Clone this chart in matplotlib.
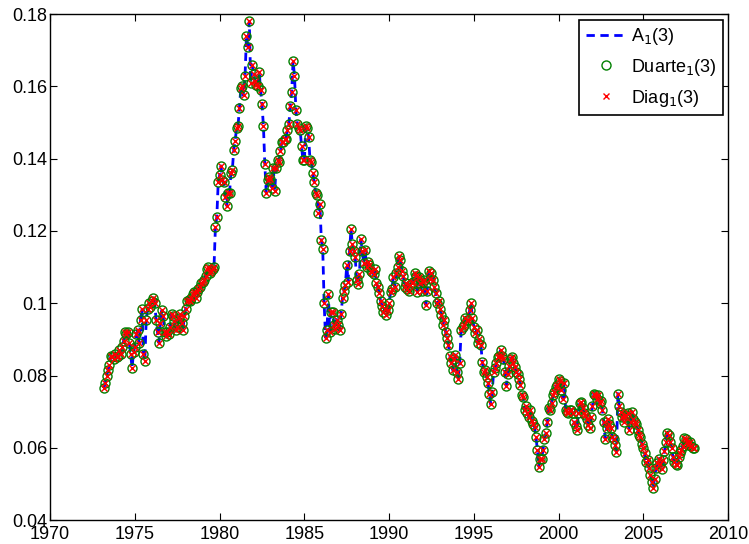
import numpy as np
import matplotlib.pyplot as plt

plt.rcParams['font.family'] = ['Liberation Sans', 'DejaVu Sans']

# monthly values, March 1973 .. January 2008
start_year = 1973
start_month = 3
a1_values = [
    # 1973 (Mar-Dec)
    .0765, .078, .080, .0815, .083, .0855, .085, .0845, .086, .085,
    # 1974
    .0855, .087, .086, .088, .0895, .092, .0915, .092, .089, .086, .082, .0865,
    # 1975
    .088, .0915, .0925, .089, .0955, .0985, .086, .084, .0955, .0985, .100, .099,
    # 1976
    .1005, .1015, .100, .0955, .092, .089, .0945, .098, .0965, .092, .091, .092,
    # 1977
    .0915, .0935, .097, .0965, .095, .0925, .0935, .096, .097, .0945, .0925, .0965,
    # 1978
    .0985, .1005, .101, .1005, .1015, .1025, .103, .1015, .103, .104, .1045, .1055,
    # 1979
    .106, .1065, .1075, .1095, .110, .1085, .109, .1095, .110, .121, .124, .1335,
    # 1980
    .1355, .138, .134, .1335, .1295, .127, .1305, .1305, .136, .137, .1425, .145,
    # 1981
    .1485, .149, .154, .1595, .160, .1575, .163, .174, .171, .178, .161, .166,
    # 1982
    .1635, .1615, .1605, .160, .164, .159, .155, .149, .1385, .1305, .134, .135,
    # 1983
    .1345, .132, .1375, .131, .1375, .1395, .139, .142, .1445, .1445, .1455, .1455,
    # 1984
    .148, .1495, .1545, .1585, .167, .163, .1535, .1495, .1485, .148, .1435, .1395,
    # 1985
    .1395, .149, .1485, .146, .1395, .139, .136, .1335, .1305, .130, .125, .1275,
    # 1986
    .1175, .115, .100, .0905, .0925, .1025, .092, .0975, .0975, .094, .093, .0955,
    # 1987
    .094, .0925, .097, .1015, .1035, .105, .1105, .106, .1145, .1205, .1165, .1145,
    # 1988
    .1128, .1065, .1053, .108, .1177, .1145, .111, .1147, .110, .1115, .1105, .109,
    # 1989
    .1087, .108, .1095, .1055, .1045, .1028, .1005, .0993, .0975, .0985, .0967, .098,
    # 1990
    .100, .103, .104, .1073, .1045, .1085, .110, .113, .112, .109, .1075, .1045,
    # 1991
    .1055, .104, .1035, .105, .1055, .106, .1083, .1075, .103, .1073, .1055, .1035,
    # 1992
    .106, .1065, .0995, .1035, .109, .1066, .1085, .1065, .1045, .1028, .100, .1005,
    # 1993
    .0985, .0967, .094, .0955, .092, .0905, .0885, .0855, .0835, .0815, .0845, .0857,
    # 1994
    .081, .079, .0835, .0926, .0935, .094, .096, .0955, .0955, .098, .100, .096,
    # 1995
    .0935, .0918, .0925, .089, .090, .0885, .0837, .081, .0815, .0796, .078, .075,
    # 1996
    .072, .0755, .081, .082, .0835, .085, .0855, .087, .0855, .0845, .081, .077,
    # 1997
    .0805, .0825, .0845, .085, .0835, .0823, .081, .0805, .079, .0775, .0746, .074,
    # 1998
    .0705, .0715, .0695, .0685, .0705, .0675, .0665, .0657, .063, .0594, .0548, .057,
    # 1999
    .057, .0595, .0625, .064, .067, .071, .0705, .0725, .0745, .0755, .0768, .0775,
    # 2000
    .079, .0785, .076, .0735, .078, .0705, .070, .0695, .0705, .0705, .0695, .067,
    # 2001
    .066, .065, .0695, .0724, .0728, .071, .0695, .069, .068, .0663, .0655, .0685,
    # 2002
    .0715, .075, .0745, .0735, .0745, .0725, .073, .0705, .067, .0625, .0655, .068,
    # 2003
    .0665, .0655, .063, .0625, .0607, .0588, .075, .0715, .070, .0685, .067, .0685,
    # 2004
    .069, .0695, .065, .067, .070, .068, .067, .0665, .065, .0635, .063, .061,
    # 2005
    .060, .0585, .056, .0565, .0544, .0525, .0505, .049, .0515, .0545, .0558, .057,
    # 2006
    .0555, .054, .0565, .059, .0615, .064, .0635, .0615, .060, .0575, .056, .0555,
    # 2007
    .0553, .0575, .0585, .0595, .0605, .0627, .0625, .0615, .0607, .0615, .0605, .060,
    # 2008 (Jan)
    .060,
]
# the three estimates lie on top of each other in the figure
duarte1_values = a1_values
diag1_values = a1_values

t = start_year + (start_month - 1) / 12 + np.arange(len(a1_values)) / 12

fig = plt.figure(figsize=(7.49, 5.44), dpi=100)
ax = fig.add_axes([0.067, 0.044, 0.905, 0.930])

ax.plot(t, a1_values, color='blue', linestyle='--', linewidth=2,
        dashes=(3, 2), label='A$_1$(3)')
ax.plot(t, duarte1_values, linestyle='none', marker='o', markersize=6.5,
        markerfacecolor='none', markeredgecolor=(0, 0.5, 0),
        markeredgewidth=1, label='Duarte$_1$(3)')
ax.plot(t, diag1_values, linestyle='none', marker='x', markersize=4,
        color='red', markeredgewidth=1, label='Diag$_1$(3)')

ax.set_xlim(1970, 2010)
ax.set_ylim(0.04, 0.18)
ax.set_xticks(np.arange(1970, 2011, 5))
ax.set_yticks(np.arange(0.04, 0.181, 0.02))
ax.set_yticklabels(['0.04', '0.06', '0.08', '0.1', '0.12', '0.14', '0.16', '0.18'])
ax.tick_params(direction='in', top=True, right=True, length=5, labelsize=13)
ax.tick_params(axis='y', pad=2)
ax.tick_params(axis='x', pad=4)
for s in ax.spines.values():
    s.set_linewidth(1)

leg = ax.legend(loc='upper right', fontsize=13, fancybox=False,
                edgecolor='black', framealpha=1, handlelength=2.3,
                handletextpad=0.2, borderaxespad=0.3, labelspacing=0.55,
                borderpad=0.35)
leg.get_frame().set_linewidth(1.2)

fig.savefig('out.png', dpi=100)
